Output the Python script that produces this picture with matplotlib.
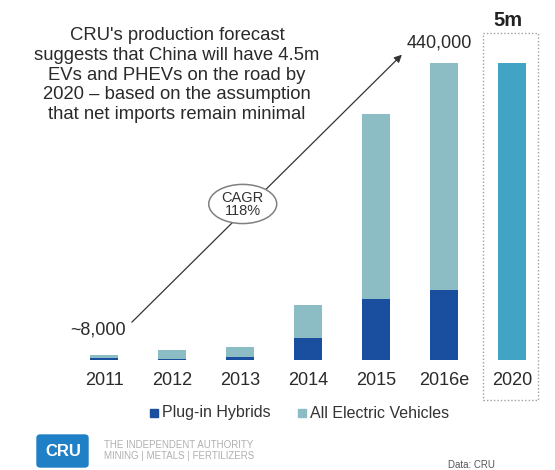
import matplotlib
matplotlib.use("Agg")
import matplotlib.pyplot as plt
from matplotlib.patches import Ellipse, Rectangle, FancyBboxPatch

plt.rcParams['font.family'] = ['Liberation Sans', 'DejaVu Sans']

# Data (thousands of vehicles; 2020 bar drawn truncated, labelled "5m")
categories = ["2011", "2012", "2013", "2014", "2015", "2016e", "2020"]
plugin_hybrids = [3, 2, 4, 33, 90, 104, 0]
all_electric = [5, 13, 15, 48, 274, 336, 440]
legend_labels = ["Plug-in Hybrids", "All Electric Vehicles"]

W, H = 555, 470
fig = plt.figure(figsize=(W / 100, H / 100), dpi=100)
fig.patch.set_facecolor("white")

ax = fig.add_axes([70 / W, (H - 360) / H, 476 / W, 360 / H])
ax.set_xlim(-0.5, 6.5)
ax.set_ylim(0, 533)
ax.axis("off")

dark = "#1a4e9e"
light = "#8cbcc4"
c2020 = "#41a4c4"
x = list(range(len(categories)))
light_colors = [light] * 6 + [c2020]
ax.bar(x, plugin_hybrids, width=0.41, color=dark, label=legend_labels[0])
ax.bar(x, all_electric, width=0.41, bottom=plugin_hybrids, color=light_colors,
       label=legend_labels[1])

for i, c in enumerate(categories):
    ax.text(i, -30, c, ha="center", va="center", fontsize=13, color="#2a2a2a")

# Arrow with CAGR ellipse
ax.annotate("", xy=(4.38, 452), xytext=(0.41, 56),
            arrowprops=dict(arrowstyle="-|>", color="#333333", lw=0.9,
                            mutation_scale=11, shrinkA=0, shrinkB=0))
ell = Ellipse((2.04, 231), 1.0, 58, facecolor="white", edgecolor="#808080",
              lw=1.1, zorder=3)
ax.add_patch(ell)
ax.text(2.04, 230, "CAGR\n118%", ha="center", va="center", fontsize=10.5,
        color="#333333", linespacing=0.95, zorder=4)

fig.text(98 / W, 1 - 330 / H, "~8,000", ha="center", va="center",
         fontsize=13, color="#2a2a2a")
fig.text(439 / W, 1 - 43 / H, "440,000", ha="center", va="center",
         fontsize=13, color="#2a2a2a")
fig.text(508 / W, 1 - 20 / H, "5m", ha="center", va="center",
         fontsize=14.5, fontweight="bold", color="#222222")

fig.text(177 / W, 1 - 75 / H,
         "CRU's production forecast\nsuggests that China will have 4.5m\n"
         "EVs and PHEVs on the road by\n2020 \u2013 based on the assumption\n"
         "that net imports remain minimal",
         ha="center", va="center", fontsize=13.3, color="#2a2a2a",
         linespacing=1.2)

# Dotted box around 2020
fig.patches.append(Rectangle((483 / W, 1 - 400 / H), 55 / W, 367 / H,
                             transform=fig.transFigure, fill=False,
                             edgecolor="#a0a0a0", lw=1.0, linestyle=(0, (1, 1.5))))

# Legend
fig.patches.append(Rectangle((150 / W, 1 - 417 / H), 8 / W, 8 / H,
                             transform=fig.transFigure, color=dark))
fig.text(162 / W, 1 - 413 / H, legend_labels[0], ha="left", va="center",
         fontsize=11.5, color="#333333")
fig.patches.append(Rectangle((298 / W, 1 - 417 / H), 8 / W, 8 / H,
                             transform=fig.transFigure, color=light))
fig.text(310 / W, 1 - 413 / H, legend_labels[1], ha="left", va="center",
         fontsize=11.5, color="#333333")

# CRU logo
fig.patches.append(FancyBboxPatch((37 / W, 1 - 467 / H), 51 / W, 32 / H,
                                  boxstyle="round,pad=0,rounding_size=0.006",
                                  transform=fig.transFigure, color="#1f80c6"))
fig.text(63 / W, 1 - 452 / H, "CRU", ha="center", va="center", fontsize=12,
         fontweight="bold", color="white")
fig.text(104 / W, 1 - 445 / H, "THE INDEPENDENT AUTHORITY", ha="left",
         va="center", fontsize=7, color="#b0b0b0")
fig.text(104 / W, 1 - 456 / H, "MINING | METALS | FERTILIZERS", ha="left",
         va="center", fontsize=7, color="#b0b0b0")
fig.text(471 / W, 1 - 465 / H, "Data: CRU", ha="center", va="center",
         fontsize=7, color="#555555")

fig.savefig("out.png", dpi=100, facecolor="white")
